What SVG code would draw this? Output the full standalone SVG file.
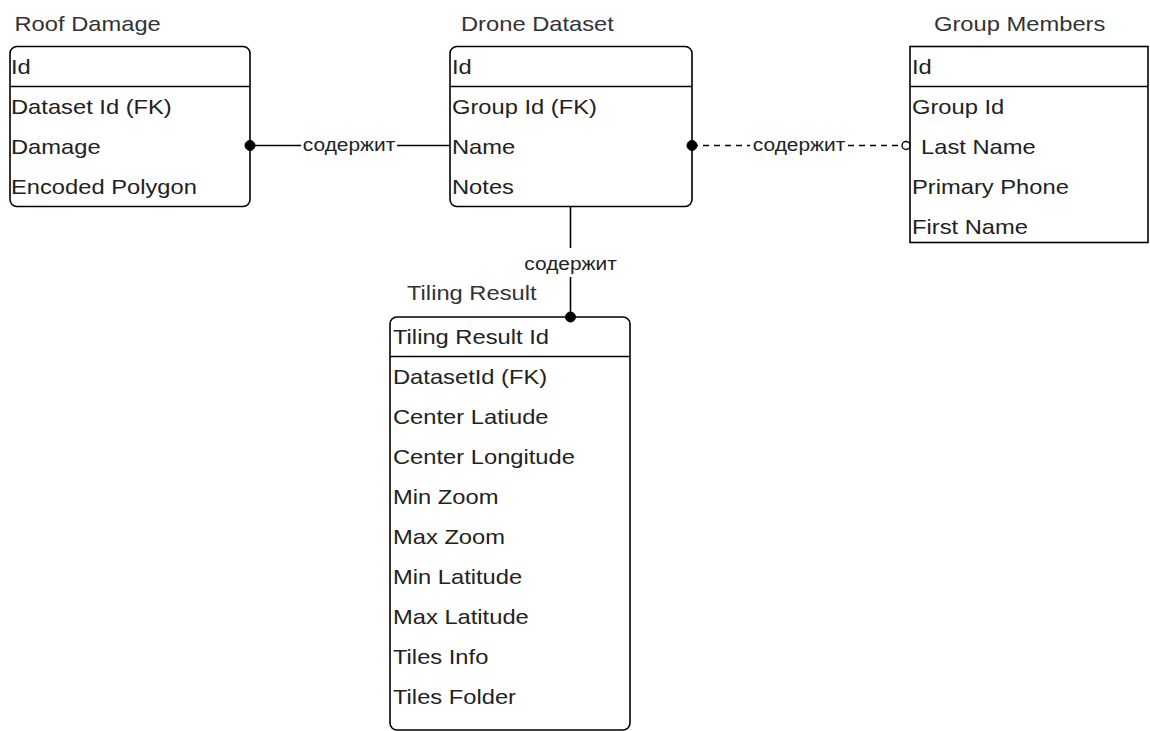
<svg xmlns="http://www.w3.org/2000/svg" width="1150" height="731" viewBox="0 0 1150 731">
<style>
.box{fill:#fff;stroke:#000;stroke-width:1.6}
.sep{stroke:#000;stroke-width:1.6}
.t{font-family:"Liberation Sans",Arial,sans-serif;font-size:21px;fill:#222}
.ttl{font-family:"Liberation Sans",Arial,sans-serif;font-size:21px;fill:#333}
.lbl{font-family:"Liberation Sans",Arial,sans-serif;font-size:18px;fill:#222}
.ln{stroke:#000;stroke-width:1.6;fill:none}
.dash{stroke-dasharray:6 5}
.dot{fill:#000;stroke:#000}
.odot{fill:#fff;stroke:#000;stroke-width:1.4}
</style>
<rect width="1150" height="731" fill="#fff"/>
<g id="roof-damage">
<text class="ttl" transform="translate(14.5,31) scale(1.13,1)">Roof Damage</text>
<rect class="box" x="10" y="46.5" width="240" height="160" rx="7"/>
<line class="sep" x1="10" y1="86.5" x2="250" y2="86.5"/>
<text class="t" transform="translate(11,74) scale(1.13,1)">Id</text>
<text class="t" transform="translate(11,114) scale(1.13,1)">Dataset Id (FK)</text>
<text class="t" transform="translate(11,154) scale(1.13,1)">Damage</text>
<text class="t" transform="translate(11,194) scale(1.13,1)">Encoded Polygon</text>
</g>
<g id="drone-dataset">
<text class="ttl" transform="translate(461,31) scale(1.13,1)">Drone Dataset</text>
<rect class="box" x="450" y="46.5" width="242" height="160" rx="7"/>
<line class="sep" x1="450" y1="86.5" x2="692" y2="86.5"/>
<text class="t" transform="translate(452,74) scale(1.13,1)">Id</text>
<text class="t" transform="translate(452,114) scale(1.13,1)">Group Id (FK)</text>
<text class="t" transform="translate(452,154) scale(1.13,1)">Name</text>
<text class="t" transform="translate(452,194) scale(1.13,1)">Notes</text>
</g>
<g id="group-members">
<text class="ttl" transform="translate(934,31) scale(1.13,1)">Group Members</text>
<rect class="box" x="910" y="46.5" width="238" height="196"/>
<line class="sep" x1="910" y1="86.5" x2="1148" y2="86.5"/>
<text class="t" transform="translate(912,74) scale(1.13,1)">Id</text>
<text class="t" transform="translate(912,114) scale(1.13,1)">Group Id</text>
<text class="t" transform="translate(921,154) scale(1.13,1)">Last Name</text>
<text class="t" transform="translate(912,194) scale(1.13,1)">Primary Phone</text>
<text class="t" transform="translate(912,234) scale(1.13,1)">First Name</text>
</g>
<g id="tiling-result">
<text class="ttl" transform="translate(407,300) scale(1.13,1)">Tiling Result</text>
<rect class="box" x="390" y="317" width="240" height="413" rx="7"/>
<line class="sep" x1="390" y1="356.5" x2="630" y2="356.5"/>
<text class="t" transform="translate(393,344) scale(1.13,1)">Tiling Result Id</text>
<text class="t" transform="translate(393,384) scale(1.13,1)">DatasetId (FK)</text>
<text class="t" transform="translate(393,424) scale(1.13,1)">Center Latiude</text>
<text class="t" transform="translate(393,464) scale(1.13,1)">Center Longitude</text>
<text class="t" transform="translate(393,504) scale(1.13,1)">Min Zoom</text>
<text class="t" transform="translate(393,544) scale(1.13,1)">Max Zoom</text>
<text class="t" transform="translate(393,584) scale(1.13,1)">Min Latitude</text>
<text class="t" transform="translate(393,624) scale(1.13,1)">Max Latitude</text>
<text class="t" transform="translate(393,664) scale(1.13,1)">Tiles Info</text>
<text class="t" transform="translate(393,704) scale(1.13,1)">Tiles Folder</text>
</g>
<g id="connectors">
<path class="ln" d="M250 145.5 H301 M397 145.5 H450"/>
<circle class="dot" cx="250" cy="145.5" r="5"/>
<text class="lbl" transform="translate(349,151) scale(1.16,1)" text-anchor="middle">содержит</text>
<path class="ln dash" d="M692 145.5 H750 M848 145.5 H902"/>
<circle class="dot" cx="692" cy="145.5" r="5"/>
<circle class="odot" cx="906" cy="145.5" r="4"/>
<text class="lbl" transform="translate(799,151) scale(1.16,1)" text-anchor="middle">содержит</text>
<path class="ln" d="M570.5 206.5 V248 M570.5 277 V317"/>
<circle class="dot" cx="570.5" cy="317" r="5"/>
<text class="lbl" transform="translate(570.5,270) scale(1.16,1)" text-anchor="middle">содержит</text>
</g>
</svg>
